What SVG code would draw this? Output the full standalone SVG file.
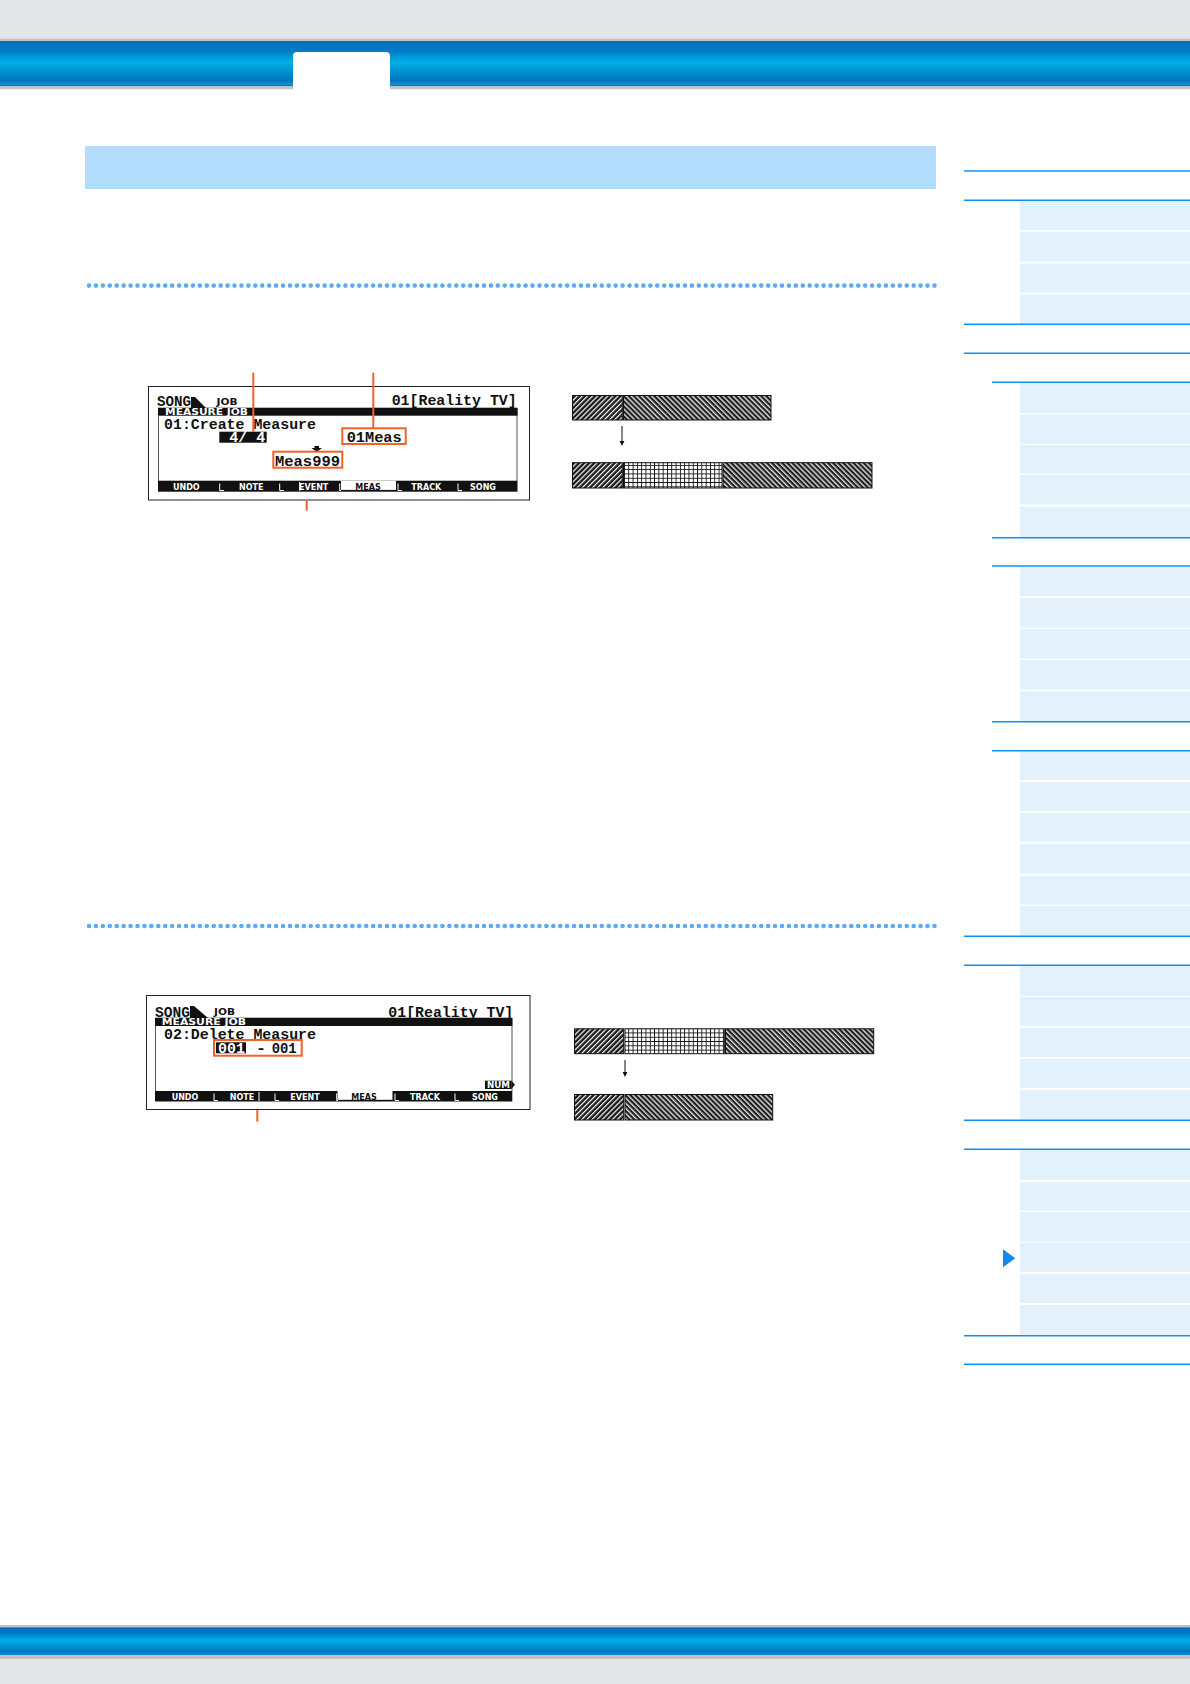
<svg xmlns="http://www.w3.org/2000/svg" width="1190" height="1684" viewBox="0 0 1190 1684">
<style>
.lcd{font-family:"Liberation Mono","DejaVu Sans Mono",monospace;font-weight:bold;font-size:14px;fill:#111}
.sm{font-family:"DejaVu Sans","Liberation Sans",sans-serif;font-weight:bold;font-size:8px;fill:#111}
.w{fill:#fff}
.ob{fill:none;stroke:#f0622a;stroke-width:2}
.co{stroke:#f0622a;stroke-width:2;fill:none}
.sl{stroke:#1290f2;stroke-width:1.4}
.bx{fill:#e3f1fd}
.seg{stroke:#111;stroke-width:1}
.sep{stroke:#fff;stroke-width:1;fill:none}
.frame{fill:#fff;stroke:#222;stroke-width:1}
.edge{stroke:#555;stroke-width:1}
</style>
<defs>
<linearGradient id="band" x1="0" y1="0" x2="0" y2="1">
<stop offset="0" stop-color="#0071bc"/>
<stop offset="0.2" stop-color="#0079c3"/>
<stop offset="0.48" stop-color="#00b0e8"/>
<stop offset="0.62" stop-color="#0099d6"/>
<stop offset="0.88" stop-color="#0074bd"/>
<stop offset="0.95" stop-color="#168fd0"/>
<stop offset="1" stop-color="#0070b8"/>
</linearGradient>
<pattern id="hA" width="3.6" height="3.6" patternUnits="userSpaceOnUse" patternTransform="rotate(45)">
<rect width="3.6" height="3.6" fill="#1a1a1a"/><rect width="1.2" height="3.6" fill="#fff"/>
</pattern>
<pattern id="hB" width="3.6" height="3.6" patternUnits="userSpaceOnUse" patternTransform="rotate(-45)">
<rect width="3.6" height="3.6" fill="#1e1e1e"/><rect width="1.4" height="3.6" fill="#e0e0e0"/>
</pattern>
<pattern id="grid" width="4.3" height="4.3" patternUnits="userSpaceOnUse" x="0.5" y="0.5">
<rect width="4.3" height="4.3" fill="#fff"/><path d="M0 0.45H4.3M0.45 0V4.3" stroke="#111" stroke-width="0.9"/>
</pattern>
</defs>

<rect width="1190" height="1684" fill="#fff"/>

<g id="header">
<rect x="0" y="0" width="1190" height="39" fill="#e5e6e8"/>
<rect x="0" y="38.7" width="1190" height="2.5" fill="#c0c2c4"/>
<rect x="0" y="41" width="1190" height="45.5" fill="url(#band)"/>
<rect x="0" y="86.3" width="1190" height="3" fill="#c2c4c6"/>
<path d="M293 90 V56 Q293 52 297 52 H386 Q390 52 390 56 V90 Z" fill="#fff"/>
</g>

<g id="footer">
<rect x="0" y="1625" width="1190" height="2.5" fill="#c0c2c4"/>
<rect x="0" y="1627.3" width="1190" height="28" fill="url(#band)"/>
<rect x="0" y="1655" width="1190" height="4" fill="#c0c2c4"/>
<rect x="0" y="1659" width="1190" height="25" fill="#e5e6e8"/>
</g>

<g id="title-bar">
<rect x="85" y="146" width="851" height="43" fill="#b3ddfd"/>
</g>

<g id="separators">
<line x1="89" y1="285.6" x2="936" y2="285.6" stroke="#5aacf7" stroke-width="4.6" stroke-linecap="round" stroke-dasharray="0 6.93"/>
<line x1="89" y1="926" x2="936" y2="926" stroke="#5aacf7" stroke-width="4.6" stroke-linecap="round" stroke-dasharray="0 6.93"/>
</g>

<g id="lcd1">
<rect class="frame" x="148.5" y="386.5" width="381" height="113.5"/>
<line class="edge" x1="158.5" y1="416" x2="158.5" y2="481"/>
<line class="edge" x1="517" y1="408" x2="517" y2="481"/>
<text class="lcd" x="157" y="406" font-size="13" textLength="34" lengthAdjust="spacingAndGlyphs">SONG</text>
<polygon points="191,397 195,397 206,408 191,408" fill="#111"/>
<text class="sm" x="216.5" y="404.5" font-size="7" textLength="21" lengthAdjust="spacingAndGlyphs">JOB</text>
<text class="lcd" x="391.7" y="405.3" textLength="125" lengthAdjust="spacingAndGlyphs">01[Reality TV]</text>
<rect x="158" y="407.7" width="359.5" height="8" fill="#111"/>
<text class="sm w" x="165" y="414.6" font-size="7" textLength="83" lengthAdjust="spacingAndGlyphs">MEASURE JOB</text>
<text class="lcd" x="164" y="428.8" font-size="13" textLength="152" lengthAdjust="spacingAndGlyphs">01:Create Measure</text>
<rect x="219.3" y="431.7" width="47.4" height="11" fill="#111"/>
<text class="lcd w" x="229.3" y="442.2" font-size="11.5" textLength="36" lengthAdjust="spacingAndGlyphs">4/ 4</text>
<text class="lcd" x="346.7" y="441.7" font-size="13" textLength="55" lengthAdjust="spacingAndGlyphs">01Meas</text>
<rect class="ob" x="342.3" y="428.3" width="63.4" height="15.7"/>
<polygon points="314.5,446 319,446 319,448 322,448 316.7,452 311.4,448 314.5,448" fill="#111"/>
<text class="lcd" x="275" y="466" font-size="13" textLength="65" lengthAdjust="spacingAndGlyphs">Meas999</text>
<rect class="ob" x="273.3" y="451.7" width="69" height="16"/>
<rect x="158" y="480.7" width="359.5" height="11" fill="#111"/>
<rect x="341" y="480.7" width="55" height="9.2" fill="#fff"/>
<path class="sep" d="M219.7 483.5V490.5H224M279.7 483.5V490.5H284M339.7 483.5V490.5H341M398 483.5V490.5H402M458 483.5V490.5H462M299.7 482V491"/>
<g text-anchor="middle">
<text class="sm w" x="186.3" y="489.8">UNDO</text>
<text class="sm w" x="251.3" y="489.8">NOTE</text>
<text class="sm w" x="313.7" y="489.8">EVENT</text>
<text class="sm" x="368" y="489.5">MEAS</text>
<text class="sm w" x="426.3" y="489.8">TRACK</text>
<text class="sm w" x="483" y="489.8">SONG</text>
</g>
</g>

<g id="bars1">
<rect class="seg" x="572.5" y="395.5" width="49.8" height="24.5" fill="url(#hA)"/>
<rect class="seg" x="623.5" y="395.5" width="147.5" height="24.5" fill="url(#hB)"/>
<rect class="seg" x="572.5" y="462.7" width="49.8" height="25.3" fill="url(#hA)"/>
<rect class="seg" x="623.5" y="462.7" width="98.5" height="25.3" fill="url(#grid)"/>
<rect class="seg" x="723" y="462.7" width="149" height="25.3" fill="url(#hB)"/>
</g>

<g id="lcd2">
<rect class="frame" x="146.5" y="995.5" width="383.5" height="114"/>
<line class="edge" x1="155.5" y1="1026" x2="155.5" y2="1091"/>
<line class="edge" x1="512" y1="1018" x2="512" y2="1091"/>
<text class="lcd" x="155" y="1016.7" font-size="13" textLength="35" lengthAdjust="spacingAndGlyphs">SONG</text>
<polygon points="190,1006 194,1006 208,1018 190,1018" fill="#111"/>
<text class="sm" x="214" y="1015" font-size="7" textLength="21" lengthAdjust="spacingAndGlyphs">JOB</text>
<text class="lcd" x="388.3" y="1016.7" textLength="125" lengthAdjust="spacingAndGlyphs">01[Reality TV]</text>
<rect x="155" y="1017.7" width="357.3" height="8.3" fill="#111"/>
<text class="sm w" x="161.7" y="1025" font-size="7" textLength="84.3" lengthAdjust="spacingAndGlyphs">MEASURE JOB</text>
<text class="lcd" x="164" y="1038.8" font-size="13" textLength="152" lengthAdjust="spacingAndGlyphs">02:Delete Measure</text>
<rect x="216" y="1042.3" width="30" height="11" fill="#111"/>
<text class="lcd w" x="218" y="1053" font-size="12" textLength="27" lengthAdjust="spacingAndGlyphs">001</text>
<text class="lcd" x="256" y="1052.5" font-size="12" textLength="10" lengthAdjust="spacingAndGlyphs">-</text>
<text class="lcd" x="271.7" y="1053" font-size="12" textLength="25" lengthAdjust="spacingAndGlyphs">001</text>
<rect class="ob" x="214" y="1040" width="87.7" height="15.7"/>
<rect x="485" y="1080.7" width="26.7" height="8.3" fill="#111"/>
<polygon points="511.7,1081 515,1084.8 511.7,1088.6" fill="#111"/>
<text class="sm w" x="487" y="1088.3" font-size="7.5" textLength="23" lengthAdjust="spacingAndGlyphs">NUM</text>
<rect x="155" y="1091" width="357.3" height="10.5" fill="#111"/>
<rect x="337.5" y="1091" width="55" height="8.8" fill="#fff"/>
<path class="sep" d="M214 1093.5V1100.5H218M275 1093.5V1100.5H279M336.7 1093.5V1100.5H338M395 1093.5V1100.5H399M455 1093.5V1100.5H459M259 1092V1101"/>
<g text-anchor="middle">
<text class="sm w" x="185" y="1099.8">UNDO</text>
<text class="sm w" x="242" y="1099.8">NOTE</text>
<text class="sm w" x="305" y="1099.8">EVENT</text>
<text class="sm" x="364" y="1099.5">MEAS</text>
<text class="sm w" x="425" y="1099.8">TRACK</text>
<text class="sm w" x="485" y="1099.8">SONG</text>
</g>
</g>

<g id="bars2">
<rect class="seg" x="574.5" y="1028.8" width="49.2" height="24.9" fill="url(#hA)"/>
<rect class="seg" x="625" y="1028.8" width="99.3" height="24.9" fill="url(#grid)"/>
<rect class="seg" x="725.5" y="1028.8" width="148.2" height="24.9" fill="url(#hB)"/>
<rect class="seg" x="574.5" y="1094.5" width="49.2" height="25.5" fill="url(#hA)"/>
<rect class="seg" x="625" y="1094.5" width="147.7" height="25.5" fill="url(#hB)"/>
</g>

<g id="connectors">
<line class="co" x1="253.3" y1="372.7" x2="253.3" y2="432"/>
<line class="co" x1="373.3" y1="372.7" x2="373.3" y2="428.3"/>
<line class="co" x1="306.7" y1="500.5" x2="306.7" y2="510.7"/>
<line class="co" x1="257.3" y1="1110" x2="257.3" y2="1121.7"/>
<line x1="622" y1="426" x2="622" y2="441.5" stroke="#111" stroke-width="1"/>
<polygon points="619.6,441 624.4,441 622,446" fill="#111"/>
<line x1="625" y1="1060" x2="625" y2="1072.5" stroke="#111" stroke-width="1"/>
<polygon points="622.6,1072 627.4,1072 625,1077" fill="#111"/>
</g>

<g id="sidebar">
<g class="bx">
<rect x="1020" y="200.5" width="170" height="29.5"/>
<rect x="1020" y="231.7" width="170" height="30"/>
<rect x="1020" y="263.5" width="170" height="29.2"/>
<rect x="1020" y="294.5" width="170" height="29.3"/>
<rect x="1020" y="383" width="170" height="30"/>
<rect x="1020" y="414.5" width="170" height="29.5"/>
<rect x="1020" y="445" width="170" height="28.5"/>
<rect x="1020" y="475" width="170" height="29.5"/>
<rect x="1020" y="506.5" width="170" height="30.7"/>
<rect x="1020" y="567" width="170" height="29"/>
<rect x="1020" y="597.7" width="170" height="30"/>
<rect x="1020" y="629" width="170" height="29.7"/>
<rect x="1020" y="660" width="170" height="29.7"/>
<rect x="1020" y="691" width="170" height="30.2"/>
<rect x="1020" y="751.5" width="170" height="28.5"/>
<rect x="1020" y="781.7" width="170" height="29.3"/>
<rect x="1020" y="812.7" width="170" height="29"/>
<rect x="1020" y="843.7" width="170" height="30"/>
<rect x="1020" y="875.7" width="170" height="29"/>
<rect x="1020" y="906" width="170" height="29.8"/>
<rect x="1020" y="966" width="170" height="30"/>
<rect x="1020" y="997" width="170" height="29"/>
<rect x="1020" y="1028" width="170" height="29"/>
<rect x="1020" y="1058.7" width="170" height="29.3"/>
<rect x="1020" y="1090" width="170" height="29.8"/>
<rect x="1020" y="1150" width="170" height="30"/>
<rect x="1020" y="1182" width="170" height="28.7"/>
<rect x="1020" y="1212" width="170" height="29.7"/>
<rect x="1020" y="1242.7" width="170" height="29.3"/>
<rect x="1020" y="1274" width="170" height="29"/>
<rect x="1020" y="1305" width="170" height="30.3"/>
</g>
<g class="sl">
<line x1="964" y1="171" x2="1190" y2="171"/>
<line x1="964" y1="200.3" x2="1190" y2="200.3"/>
<line x1="964" y1="324.3" x2="1190" y2="324.3"/>
<line x1="964" y1="353.3" x2="1190" y2="353.3"/>
<line x1="992" y1="382.3" x2="1190" y2="382.3"/>
<line x1="992" y1="537.7" x2="1190" y2="537.7"/>
<line x1="992" y1="566" x2="1190" y2="566"/>
<line x1="992" y1="721.7" x2="1190" y2="721.7"/>
<line x1="992" y1="750.7" x2="1190" y2="750.7"/>
<line x1="964" y1="936.3" x2="1190" y2="936.3"/>
<line x1="964" y1="965.3" x2="1190" y2="965.3"/>
<line x1="964" y1="1120.3" x2="1190" y2="1120.3"/>
<line x1="964" y1="1149.3" x2="1190" y2="1149.3"/>
<line x1="964" y1="1335.7" x2="1190" y2="1335.7"/>
<line x1="964" y1="1364.3" x2="1190" y2="1364.3"/>
</g>
<polygon points="1003,1249.3 1015.3,1258.3 1003,1267.3" fill="#1588f0"/>
</g>
</svg>
